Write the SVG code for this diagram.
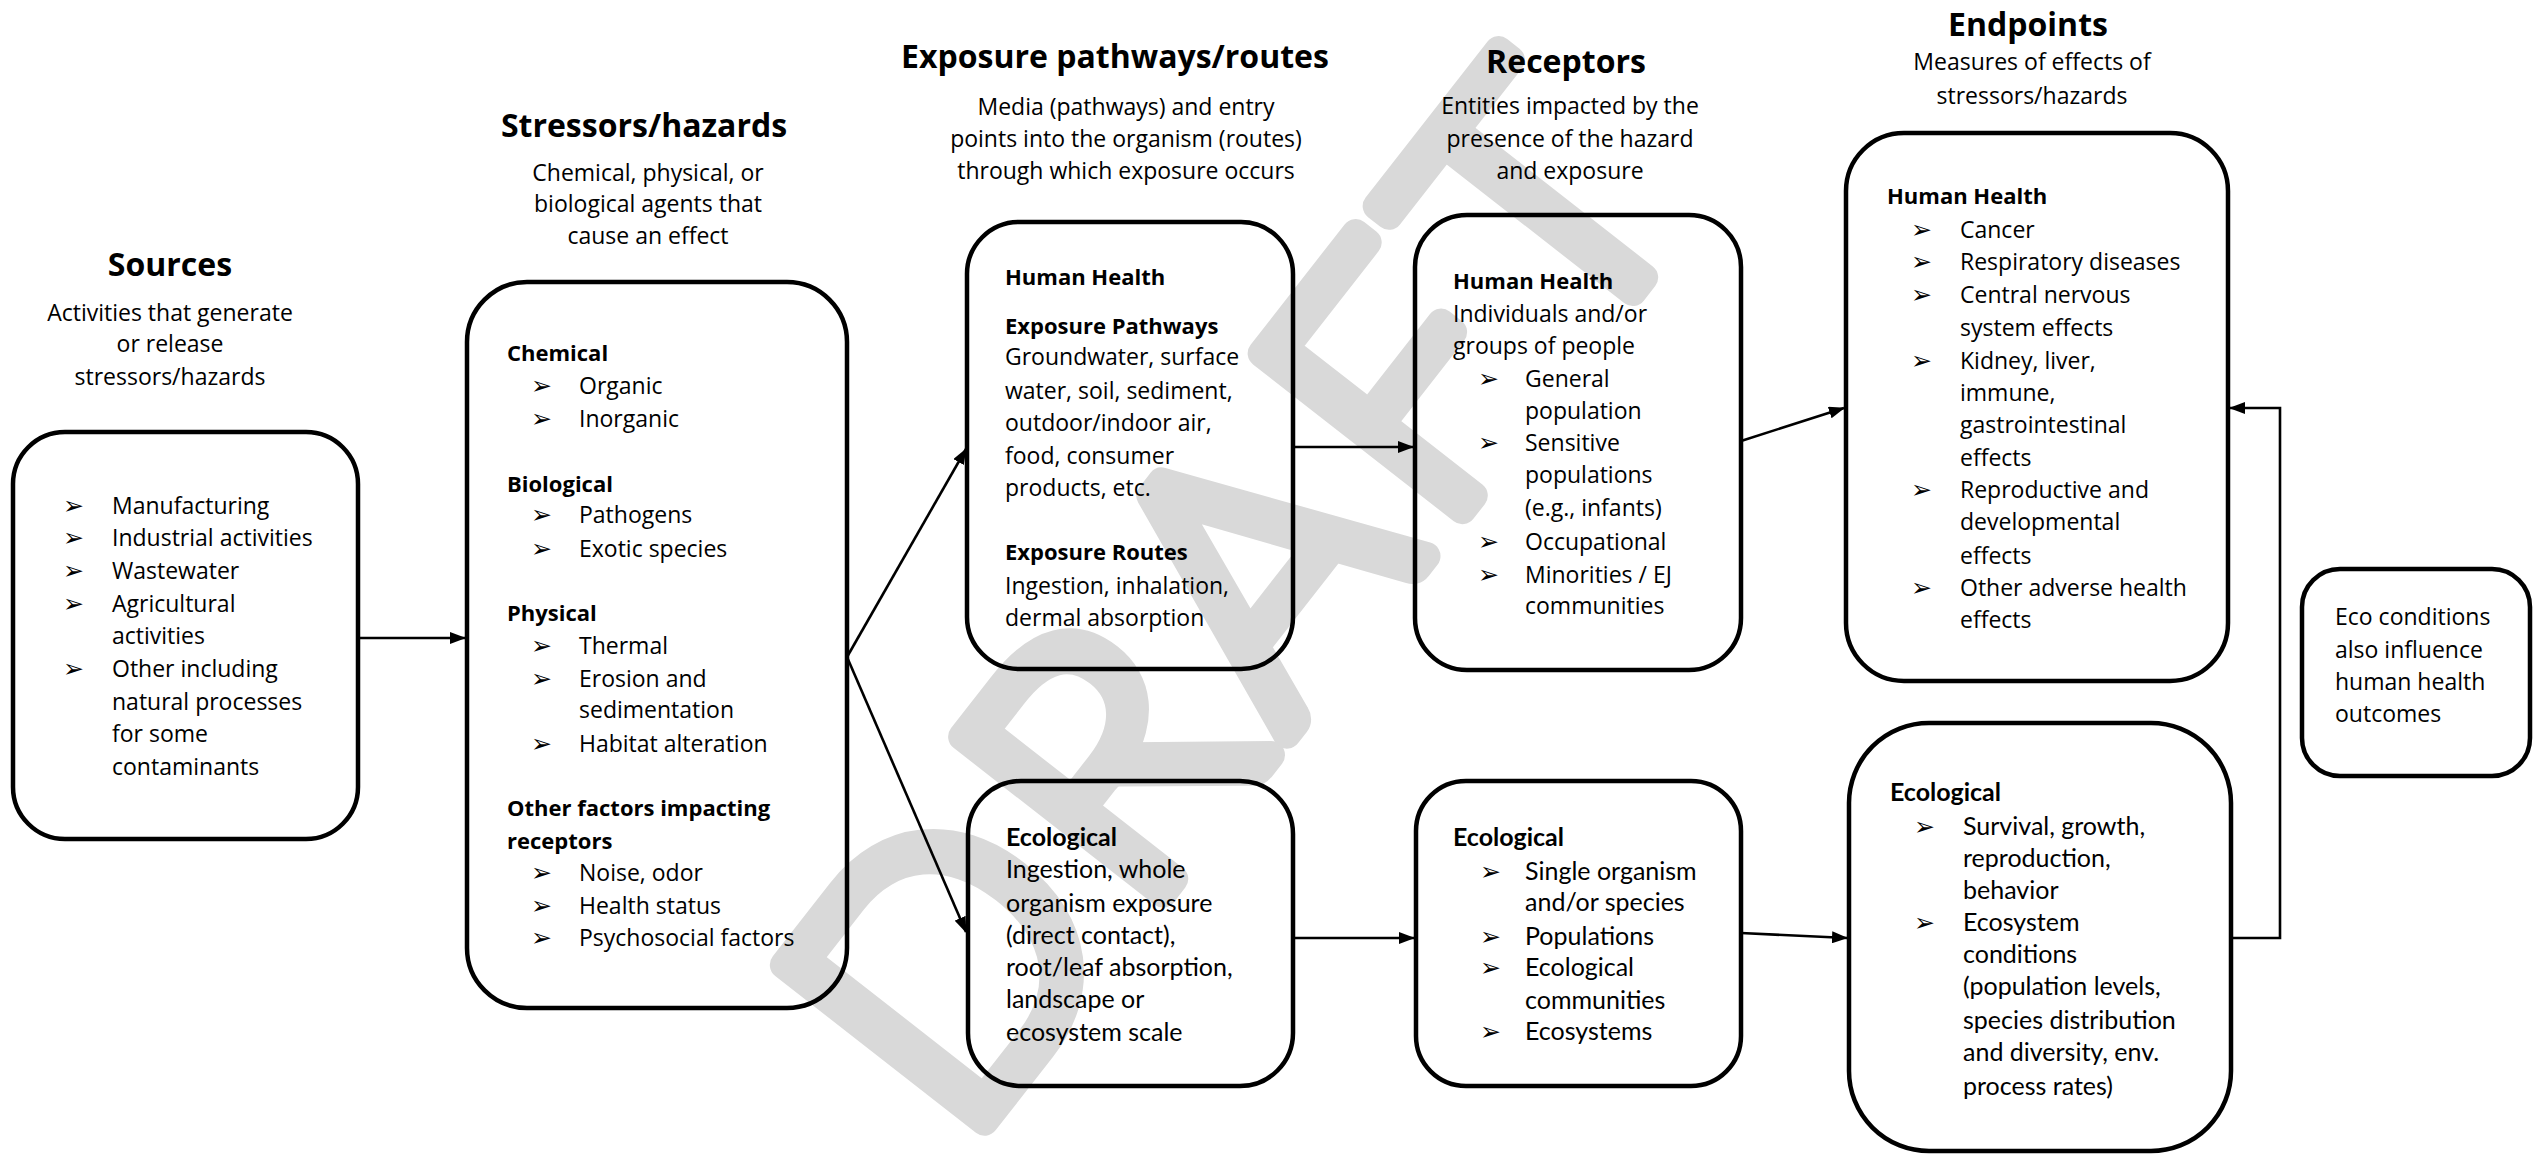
<svg xmlns="http://www.w3.org/2000/svg" width="2542" height="1159" viewBox="0 0 2542 1159">
<style>
  .bg { fill: #ffffff; }
  .box { fill: none; stroke: #000; stroke-width: 4.5; }
  .conn { fill: none; stroke: #000; stroke-width: 2.6; }
  .title { font-family: "Open Sans", "DejaVu Sans", sans-serif; font-weight: 700; font-size: 32px; fill: #000; text-anchor: middle; }
  .sub { font-family: "Open Sans", "DejaVu Sans", sans-serif; font-size: 23px; fill: #000; text-anchor: middle; }
  .t { font-family: "Open Sans", "DejaVu Sans", sans-serif; font-size: 23px; fill: #000; }
  .h { font-family: "Open Sans", "DejaVu Sans", sans-serif; font-size: 22px; font-weight: 700; fill: #000; }
  .e { font-family: Lato, "Liberation Sans", sans-serif; font-size: 25px; fill: #000; }
  .eh { font-family: Lato, "Liberation Sans", sans-serif; font-size: 25px; font-weight: 700; fill: #000; }
  .b { font-family: "DejaVu Sans", sans-serif; font-size: 25px; fill: #000; }
  .wm { font-family: Lato, "Open Sans", sans-serif; font-weight: 300; font-size: 360px; letter-spacing: 16px; fill: #d9d9d9; stroke: #d9d9d9; stroke-width: 28; stroke-linejoin: round; text-anchor: middle; }
</style>
<defs>
  <marker id="arr" markerUnits="userSpaceOnUse" markerWidth="16" markerHeight="12" refX="15" refY="6" orient="auto">
    <path d="M0,0 L16,6 L0,12 Z" fill="#000"/>
  </marker>
</defs>
<rect class="bg" x="0" y="0" width="2542" height="1159"/>

<g id="watermark" transform="translate(1236,592) rotate(-52)">
  <text class="wm" x="0" y="128">DRAFT</text>
</g>

<g id="sources">
  <text class="title" x="170" y="276">Sources</text>
  <text class="sub" x="170" y="321">Activities that generate</text>
  <text class="sub" x="170" y="352">or release</text>
  <text class="sub" x="170" y="385">stressors/hazards</text>
  <rect class="box" x="13" y="432" width="345" height="407" rx="52"/>
  <text class="b" x="63" y="514">➢</text><text class="t" x="112" y="514">Manufacturing</text>
  <text class="b" x="63" y="546">➢</text><text class="t" x="112" y="546">Industrial activities</text>
  <text class="b" x="63" y="579">➢</text><text class="t" x="112" y="579">Wastewater</text>
  <text class="b" x="63" y="612">➢</text><text class="t" x="112" y="612">Agricultural</text>
  <text class="t" x="112" y="644">activities</text>
  <text class="b" x="63" y="677">➢</text><text class="t" x="112" y="677">Other including</text>
  <text class="t" x="112" y="710">natural processes</text>
  <text class="t" x="112" y="742">for some</text>
  <text class="t" x="112" y="775">contaminants</text>
</g>

<g id="stressors">
  <text class="title" x="644" y="137">Stressors/hazards</text>
  <text class="sub" x="648" y="181">Chemical, physical, or</text>
  <text class="sub" x="648" y="212">biological agents that</text>
  <text class="sub" x="648" y="244">cause an effect</text>
  <rect class="box" x="467" y="282" width="380" height="726" rx="60"/>
  <text class="h" x="507" y="361">Chemical</text>
  <text class="b" x="531" y="394">➢</text><text class="t" x="579" y="394">Organic</text>
  <text class="b" x="531" y="427">➢</text><text class="t" x="579" y="427">Inorganic</text>
  <text class="h" x="507" y="492">Biological</text>
  <text class="b" x="531" y="523">➢</text><text class="t" x="579" y="523">Pathogens</text>
  <text class="b" x="531" y="557">➢</text><text class="t" x="579" y="557">Exotic species</text>
  <text class="h" x="507" y="621">Physical</text>
  <text class="b" x="531" y="654">➢</text><text class="t" x="579" y="654">Thermal</text>
  <text class="b" x="531" y="687">➢</text><text class="t" x="579" y="687">Erosion and</text>
  <text class="t" x="579" y="718">sedimentation</text>
  <text class="b" x="531" y="752">➢</text><text class="t" x="579" y="752">Habitat alteration</text>
  <text class="h" x="507" y="816">Other factors impacting</text>
  <text class="h" x="507" y="849">receptors</text>
  <text class="b" x="531" y="881">➢</text><text class="t" x="579" y="881">Noise, odor</text>
  <text class="b" x="531" y="914">➢</text><text class="t" x="579" y="914">Health status</text>
  <text class="b" x="531" y="946">➢</text><text class="t" x="579" y="946">Psychosocial factors</text>
</g>

<g id="exposure-title">
  <text class="title" x="1115" y="68">Exposure pathways/routes</text>
  <text class="sub" x="1126" y="115">Media (pathways) and entry</text>
  <text class="sub" x="1126" y="147">points into the organism (routes)</text>
  <text class="sub" x="1126" y="179">through which exposure occurs</text>
</g>

<g id="pathways-human">
  <rect class="box" x="967" y="222" width="326" height="447" rx="52"/>
  <text class="h" x="1005" y="285">Human Health</text>
  <text class="h" x="1005" y="334">Exposure Pathways</text>
  <text class="t" x="1005" y="365">Groundwater, surface</text>
  <text class="t" x="1005" y="399">water, soil, sediment,</text>
  <text class="t" x="1005" y="431">outdoor/indoor air,</text>
  <text class="t" x="1005" y="464">food, consumer</text>
  <text class="t" x="1005" y="496">products, etc.</text>
  <text class="h" x="1005" y="560">Exposure Routes</text>
  <text class="t" x="1005" y="594">Ingestion, inhalation,</text>
  <text class="t" x="1005" y="626">dermal absorption</text>
</g>

<g id="pathways-eco">
  <rect class="box" x="968" y="781" width="325" height="305" rx="53"/>
  <text class="eh" x="1006" y="846">Ecological</text>
  <text class="e" x="1006" y="878">Ingestion, whole</text>
  <text class="e" x="1006" y="912">organism exposure</text>
  <text class="e" x="1006" y="944">(direct contact),</text>
  <text class="e" x="1006" y="976">root/leaf absorption,</text>
  <text class="e" x="1006" y="1008">landscape or</text>
  <text class="e" x="1006" y="1041">ecosystem scale</text>
</g>

<g id="receptors-title">
  <text class="title" x="1566" y="73">Receptors</text>
  <text class="sub" x="1570" y="114">Entities impacted by the</text>
  <text class="sub" x="1570" y="147">presence of the hazard</text>
  <text class="sub" x="1570" y="179">and exposure</text>
</g>

<g id="receptors-human">
  <rect class="box" x="1415" y="215" width="326" height="455" rx="52"/>
  <text class="h" x="1453" y="289">Human Health</text>
  <text class="t" x="1453" y="322">Individuals and/or</text>
  <text class="t" x="1453" y="354">groups of people</text>
  <text class="b" x="1478" y="387">➢</text><text class="t" x="1525" y="387">General</text>
  <text class="t" x="1525" y="419">population</text>
  <text class="b" x="1478" y="451">➢</text><text class="t" x="1525" y="451">Sensitive</text>
  <text class="t" x="1525" y="483">populations</text>
  <text class="t" x="1525" y="516">(e.g., infants)</text>
  <text class="b" x="1478" y="550">➢</text><text class="t" x="1525" y="550">Occupational</text>
  <text class="b" x="1478" y="583">➢</text><text class="t" x="1525" y="583">Minorities / EJ</text>
  <text class="t" x="1525" y="614">communities</text>
</g>

<g id="receptors-eco">
  <rect class="box" x="1416" y="781" width="325" height="305" rx="50"/>
  <text class="eh" x="1453" y="846">Ecological</text>
  <text class="b" x="1480" y="880">➢</text><text class="e" x="1525" y="880">Single organism</text>
  <text class="e" x="1525" y="911">and/or species</text>
  <text class="b" x="1480" y="945">➢</text><text class="e" x="1525" y="945">Populations</text>
  <text class="b" x="1480" y="976">➢</text><text class="e" x="1525" y="976">Ecological</text>
  <text class="e" x="1525" y="1009">communities</text>
  <text class="b" x="1480" y="1040">➢</text><text class="e" x="1525" y="1040">Ecosystems</text>
</g>

<g id="endpoints-title">
  <text class="title" x="2028" y="36">Endpoints</text>
  <text class="sub" x="2032" y="70">Measures of effects of</text>
  <text class="sub" x="2032" y="104">stressors/hazards</text>
</g>

<g id="endpoints-human">
  <rect class="box" x="1846" y="133" width="382" height="548" rx="58"/>
  <text class="h" x="1887" y="204">Human Health</text>
  <text class="b" x="1911" y="238">➢</text><text class="t" x="1960" y="238">Cancer</text>
  <text class="b" x="1911" y="270">➢</text><text class="t" x="1960" y="270">Respiratory diseases</text>
  <text class="b" x="1911" y="303">➢</text><text class="t" x="1960" y="303">Central nervous</text>
  <text class="t" x="1960" y="336">system effects</text>
  <text class="b" x="1911" y="369">➢</text><text class="t" x="1960" y="369">Kidney, liver,</text>
  <text class="t" x="1960" y="401">immune,</text>
  <text class="t" x="1960" y="433">gastrointestinal</text>
  <text class="t" x="1960" y="466">effects</text>
  <text class="b" x="1911" y="498">➢</text><text class="t" x="1960" y="498">Reproductive and</text>
  <text class="t" x="1960" y="530">developmental</text>
  <text class="t" x="1960" y="564">effects</text>
  <text class="b" x="1911" y="596">➢</text><text class="t" x="1960" y="596">Other adverse health</text>
  <text class="t" x="1960" y="628">effects</text>
</g>

<g id="endpoints-eco">
  <rect class="box" x="1849" y="723" width="382" height="428" rx="80"/>
  <text class="eh" x="1890" y="801">Ecological</text>
  <text class="b" x="1914" y="835">➢</text><text class="e" x="1963" y="835">Survival, growth,</text>
  <text class="e" x="1963" y="867">reproduction,</text>
  <text class="e" x="1963" y="899">behavior</text>
  <text class="b" x="1914" y="931">➢</text><text class="e" x="1963" y="931">Ecosystem</text>
  <text class="e" x="1963" y="963">conditions</text>
  <text class="e" x="1963" y="995">(population levels,</text>
  <text class="e" x="1963" y="1029">species distribution</text>
  <text class="e" x="1963" y="1061">and diversity, env.</text>
  <text class="e" x="1963" y="1095">process rates)</text>
</g>

<g id="eco-note">
  <rect class="box" x="2302" y="569" width="228" height="207" rx="38"/>
  <text class="t" x="2335" y="625">Eco conditions</text>
  <text class="t" x="2335" y="658">also influence</text>
  <text class="t" x="2335" y="690">human health</text>
  <text class="t" x="2335" y="722">outcomes</text>
</g>

<g id="connectors">
  <path class="conn" d="M358,638 H465" marker-end="url(#arr)"/>
  <path class="conn" d="M847,657 L966,449" marker-end="url(#arr)"/>
  <path class="conn" d="M847,657 L966,932" marker-end="url(#arr)"/>
  <path class="conn" d="M1293,447 H1413" marker-end="url(#arr)"/>
  <path class="conn" d="M1293,938 H1414" marker-end="url(#arr)"/>
  <path class="conn" d="M1741,441 L1844,408" marker-end="url(#arr)"/>
  <path class="conn" d="M1741,933 L1847,938" marker-end="url(#arr)"/>
  <path class="conn" d="M2231,938 H2280 V408 H2230" marker-end="url(#arr)"/>
</g>
</svg>
